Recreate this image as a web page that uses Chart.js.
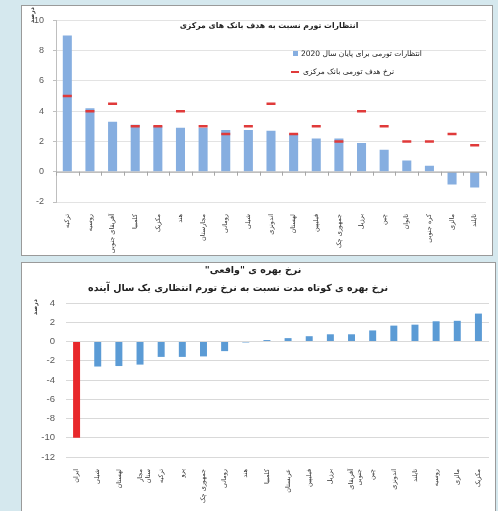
<!DOCTYPE html>
<html>
<head>
<meta charset="utf-8">
<script src="https://cdn.jsdelivr.net/npm/chart.js@4.4.0/dist/chart.umd.min.js"></script>
<style>
  html, body { margin: 0; padding: 0; }
  body { width: 498px; height: 511px; background: #d5e8ee; position: relative; overflow: hidden; }
  .panel { position: absolute; background: #fff; border: 1px solid #9a9a9a; box-sizing: border-box; }
  #topPanel { left: 21px; top: 5px; width: 472px; height: 251px; }
  #bottomPanel { left: 21px; top: 262px; width: 475px; height: 260px; }
  canvas { position: absolute; left: 0; top: 0; }
</style>
</head>
<body>
<div class="panel" id="topPanel"><canvas id="topChart" width="471" height="250"></canvas></div>
<div class="panel" id="bottomPanel"><canvas id="bottomChart" width="474" height="249"></canvas></div>
<script>
// top chart: inflation expectations vs central bank target
const topCategories = ["ترکیه", "روسیه", "آفریقای جنوبی", "کلمبیا", "مکزیک", "هند", "مجارستان", "رومانی", "شیلی",
  "اندونزی", "لهستان", "فیلیپین", "جمهوری چک", "برزیل", "چین", "تایوان", "کره جنوبی", "مالزی", "تایلند"];
const topExpected = [9.0, 4.2, 3.3, 3.1, 3.0, 2.9, 2.9, 2.75, 2.75, 2.7, 2.5, 2.2, 2.2, 1.9, 1.45, 0.75, 0.4, -0.85, -1.05];
const topTarget = [5, 4, 4.5, 3, 3, 4, 3, 2.5, 3, 4.5, 2.5, 3, 2, 4, 3, 2, 2, 2.5, 1.75];
const topTitle = "انتظارات تورم نسبت به هدف بانک های مرکزی";
const topLegend = ["انتظارات تورمی برای پایان سال 2020", "نرخ هدف تورمی بانک مرکزی"];
const topYMin = -2, topYMax = 10, topYStep = 2;

// bottom chart: real short-term interest rate
const bottomCategories = ["ایران", "شیلی", "لهستان", ["مجار", "ستان"], "ترکیه", "پرو", "جمهوری چک", "رومانی", "هند",
  "کلمبیا", "عربستان", "فیلیپین", "برزیل", ["آفریقای", "جنوبی"], "چین", "اندونزی", "تایلند", "روسیه", "مالزی", "مکزیک"];
const realRates = [-10, -2.6, -2.55, -2.4, -1.6, -1.6, -1.55, -1.0, -0.1, 0.15, 0.35, 0.55, 0.75, 0.75, 1.15, 1.65, 1.75, 2.1, 2.15, 2.9];
const bottomTitle = ["نرخ بهره ی \"واقعی\"", "نرخ بهره ی کوتاه مدت نسبت به نرخ تورم انتظاری یک سال آینده"];
const bottomYMin = -12, bottomYMax = 4, bottomYStep = 2;

const unitLabel = "درصد";
const faFont = "'DejaVu Sans', sans-serif";
const numFont = "'Liberation Sans', Arial, sans-serif";
const tickGrey = "#595959";

Chart.defaults.animation = false;
Chart.defaults.events = [];

function drawRtl(ctx, text, x, y, font, align) {
  ctx.save();
  ctx.direction = "rtl";
  ctx.font = font;
  ctx.fillStyle = "#222";
  ctx.textAlign = align;
  ctx.textBaseline = "middle";
  ctx.fillText(text, x, y);
  ctx.restore();
}

function drawUnit(ctx, x, y) {
  ctx.save();
  ctx.translate(x, y);
  ctx.rotate(-Math.PI / 2);
  ctx.direction = "rtl";
  ctx.font = "bold 6px " + faFont;
  ctx.fillStyle = "#333";
  ctx.textAlign = "center";
  ctx.textBaseline = "middle";
  ctx.fillText(unitLabel, 0, 0);
  ctx.restore();
}

const topDecor = {
  id: "topDecor",
  afterDatasetsDraw(chart) {
    const ctx = chart.ctx;
    const x = chart.scales.x, y = chart.scales.y;
    const y0 = y.getPixelForValue(0);
    ctx.save();
    ctx.strokeStyle = "#a6a6a6";
    ctx.lineWidth = 1;
    ctx.beginPath();
    ctx.moveTo(chart.chartArea.left, y0 + 0.5);
    ctx.lineTo(chart.chartArea.right, y0 + 0.5);
    for (let i = 0; i <= topCategories.length; i++) {
      const px = Math.round(x.getPixelForValue(i - 0.5)) + 0.5;
      ctx.moveTo(px, y0);
      ctx.lineTo(px, y0 + 4);
    }
    ctx.stroke();
    ctx.restore();
  },
  afterDraw(chart) {
    const ctx = chart.ctx;
    drawRtl(ctx, topTitle, 247, 20, "bold 7.8px " + faFont, "center");
    drawUnit(ctx, 10, 9);
    // legend
    ctx.save();
    ctx.fillStyle = "#86aee0";
    ctx.fillRect(271, 45, 5, 5);
    ctx.strokeStyle = "#e03a3a";
    ctx.lineWidth = 2;
    ctx.beginPath();
    ctx.moveTo(269, 66);
    ctx.lineTo(277, 66);
    ctx.stroke();
    ctx.restore();
    drawRtl(ctx, topLegend[0], 279, 48, "7.5px " + faFont, "left");
    drawRtl(ctx, topLegend[1], 281, 66, "7.5px " + faFont, "left");
  }
};

const bottomDecor = {
  id: "bottomDecor",
  afterDraw(chart) {
    const ctx = chart.ctx;
    drawRtl(ctx, bottomTitle[0], 231, 8, "bold 9.5px " + faFont, "center");
    drawRtl(ctx, bottomTitle[1], 216, 26, "bold 9.5px " + faFont, "center");
    drawUnit(ctx, 13, 44);
  }
};

new Chart(document.getElementById("topChart"), {
  type: "bar",
  data: {
    labels: topCategories,
    datasets: [{
      label: topLegend[0],
      data: topExpected,
      backgroundColor: "#86aee0",
      barPercentage: 0.8,
      categoryPercentage: 0.5,
      order: 2,
    }, {
      type: "line",
      label: topLegend[1],
      data: topTarget,
      showLine: false,
      pointStyle: "line",
      pointRadius: 4.5,
      pointBorderWidth: 2.5,
      pointBorderColor: "#e03a3a",
      borderColor: "#e03a3a",
      order: 1,
    }],
  },
  options: {
    responsive: false,
    layout: { padding: { top: 10, right: 3, left: 0, bottom: 0 } },
    plugins: { legend: { display: false }, tooltip: { enabled: false } },
    scales: {
      x: {
        grid: { display: false },
        border: { display: false },
        ticks: {
          minRotation: 90, maxRotation: 90, autoSkip: false, padding: 4,
          color: "#333", font: { family: faFont, size: 6.5 },
        },
        afterFit(scale) { scale.height = 54; },
      },
      y: {
        min: topYMin, max: topYMax,
        grid: { color: "#e3e3e3", tickLength: 3, tickColor: "#bfbfbf" },
        border: { display: true, color: "#bfbfbf" },
        ticks: { stepSize: topYStep, padding: 9, color: tickGrey, font: { family: numFont, size: 9 } },
        afterFit(scale) { scale.width = 34; },
      },
    },
  },
  plugins: [topDecor],
});

new Chart(document.getElementById("bottomChart"), {
  type: "bar",
  data: {
    labels: bottomCategories,
    datasets: [{
      data: realRates,
      backgroundColor: realRates.map((v, i) => i === 0 ? "#e8282b" : "#5b9bd5"),
      barPercentage: 0.66,
      categoryPercentage: 0.5,
    }],
  },
  options: {
    responsive: false,
    layout: { padding: { top: 40, right: 7, left: 0, bottom: 0 } },
    plugins: { legend: { display: false }, tooltip: { enabled: false } },
    scales: {
      x: {
        grid: { display: false },
        border: { display: false },
        ticks: {
          minRotation: 90, maxRotation: 90, autoSkip: false, padding: 4,
          color: "#333", font: { family: faFont, size: 6.5 },
        },
        afterFit(scale) { scale.height = 55; },
      },
      y: {
        min: bottomYMin, max: bottomYMax,
        grid: { color: "#d9d9d9", drawTicks: false },
        border: { display: false },
        ticks: { stepSize: bottomYStep, padding: 11, color: tickGrey, font: { family: numFont, size: 9.5 } },
        afterFit(scale) { scale.width = 44; },
      },
    },
  },
  plugins: [bottomDecor],
});
</script>
</body>
</html>
